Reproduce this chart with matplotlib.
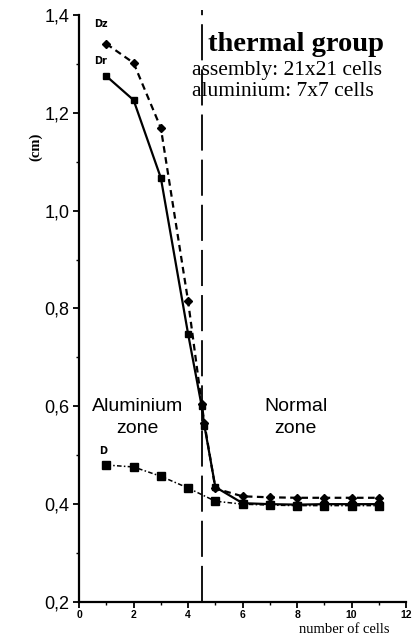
import matplotlib
matplotlib.use("Agg")
import matplotlib.pyplot as plt
from matplotlib.ticker import MultipleLocator, FuncFormatter

# Diffusion coefficients versus number of cells (thermal group)
x_dz = [1, 2, 3, 4, 4.5, 4.6, 5, 6, 7, 8, 9, 10, 11]
dz = [1.341, 1.302, 1.169, 0.815, 0.605, 0.565, 0.432, 0.416, 0.414, 0.413, 0.413, 0.413, 0.413]

x_dr = [1, 2, 3, 4, 4.5, 4.6, 5, 6, 7, 8, 9, 10, 11]
dr = [1.275, 1.226, 1.067, 0.748, 0.600, 0.560, 0.435, 0.402, 0.400, 0.399, 0.400, 0.400, 0.400]

x_d = [1, 2, 3, 4, 5, 6, 7, 8, 9, 10, 11]
d = [0.480, 0.476, 0.457, 0.433, 0.406, 0.400, 0.398, 0.397, 0.397, 0.397, 0.397]

boundary = 4.5

fig = plt.figure(figsize=(4.14, 6.4), dpi=100)
ax = fig.add_axes([0.191, 0.0594, 0.790, 0.9172])

ax.plot(x_dz, dz, color="black", linestyle=(0, (3, 2)), linewidth=1.6,
        marker="D", markersize=4)
ax.plot(x_dr, dr, color="black", linestyle="-", linewidth=1.6,
        marker="s", markersize=5)
ax.plot(x_d, d, color="black", linestyle=(0, (3, 1.5, 1, 1.5)), linewidth=1.1,
        marker="s", markersize=5.5)

ax.plot([boundary, boundary], [0.2, 1.41], color="black", linestyle=(0, (20, 5)),
        linewidth=1.3, clip_on=False)

ax.set_xlim(0, 12)
ax.set_ylim(0.2, 1.4)
ax.spines["top"].set_visible(False)
ax.spines["right"].set_visible(False)
ax.spines["left"].set_linewidth(1.6)
ax.spines["bottom"].set_linewidth(1.6)

ax.xaxis.set_major_locator(MultipleLocator(2))
ax.xaxis.set_minor_locator(MultipleLocator(1))
ax.yaxis.set_major_locator(MultipleLocator(0.2))
ax.yaxis.set_minor_locator(MultipleLocator(0.1))
ax.yaxis.set_major_formatter(FuncFormatter(lambda v, p: f"{v:.1f}".replace(".", ",")))
ax.tick_params(axis="both", which="major", direction="out", length=4, width=1.3)
ax.tick_params(axis="both", which="minor", direction="out", length=2, width=1.0)
ax.tick_params(axis="y", labelsize=13, pad=3)
ax.tick_params(axis="x", labelsize=7.5, pad=2)
for lab in ax.get_yticklabels():
    lab.set_fontfamily("Liberation Sans")
for lab in ax.get_xticklabels():
    lab.set_fontfamily("Liberation Sans")
    lab.set_fontweight("bold")

serif = "Liberation Serif"
fig.text(0.085, 0.77, "(cm)", rotation=90, ha="center", va="center",
         fontsize=10.5, family=serif, fontweight="bold")

ax.text(4.72, 1.339, "thermal group", fontsize=20.5, family=serif,
        fontweight="bold", ha="left", va="center")
ax.text(4.15, 1.286, "assembly: 21x21 cells", fontsize=15.5, family=serif,
        ha="left", va="center")
ax.text(4.15, 1.243, "aluminium: 7x7 cells", fontsize=15.5, family=serif,
        ha="left", va="center")

ax.text(0.8, 1.382, "Dz", fontsize=7, family="DejaVu Sans", fontweight="bold",
        ha="center", va="center")
ax.text(0.8, 1.305, "Dr", fontsize=7, family="DejaVu Sans", fontweight="bold",
        ha="center", va="center")
ax.text(0.9, 0.509, "D", fontsize=7, family="DejaVu Sans", fontweight="bold",
        ha="center", va="center")

ax.text(2.15, 0.577, "Aluminium\nzone", fontsize=14, family="Liberation Sans",
        ha="center", va="center", linespacing=1.35)
ax.text(7.95, 0.577, "Normal\nzone", fontsize=14, family="Liberation Sans",
        ha="center", va="center", linespacing=1.35)

fig.text(0.94, 0.016, "number of cells", fontsize=10.5, family=serif,
         ha="right", va="center")

fig.savefig("out.png", dpi=100)
